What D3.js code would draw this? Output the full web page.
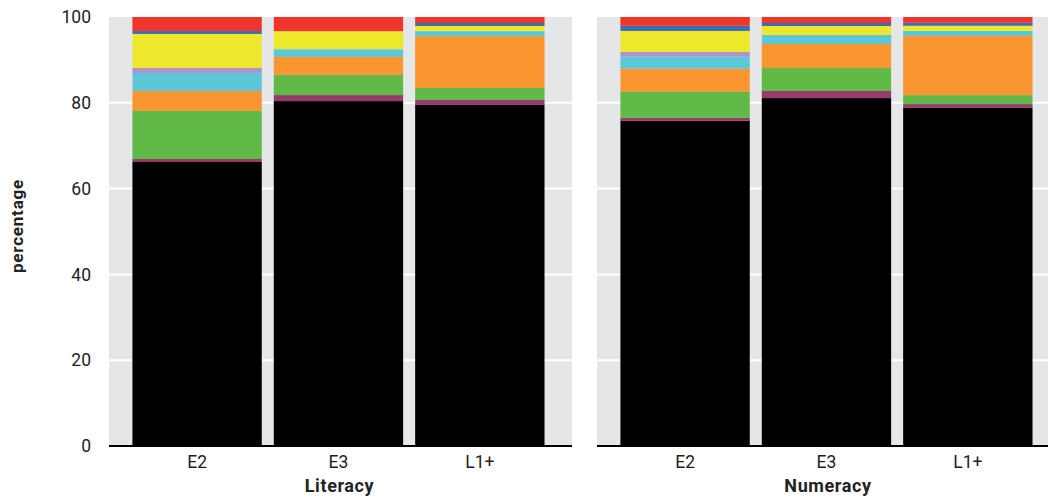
<!DOCTYPE html>
<html><head><meta charset="utf-8">
<script src="https://cdn.jsdelivr.net/npm/d3@7"></script>
<style>
html,body{margin:0;padding:0;background:#fff;}
svg{display:block;font-family:Roboto,"DejaVu Sans",sans-serif;}
</style></head>
<body>
<svg id="chart" width="1048" height="498"></svg>
<script>
const panels = ["Literacy", "Numeracy"];
const categories = ["E2", "E3", "L1+"];
const seriesNames = ["black", "maroon", "green", "orange", "cyan", "lavender", "yellow", "blue", "red"];
const seriesColors = ["#000000", "#973a6d", "#61ba47", "#f9962f", "#5cc7d9", "#b094c5", "#ede82b", "#3a6db3", "#f0352c"];
// values per series, order: Literacy E2, E3, L1+, Numeracy E2, E3, L1+
const black    = [66.2, 80.4, 79.5, 75.8, 81.1, 78.8];
const maroon   = [0.7, 1.4, 1.15, 0.7, 1.65, 0.9];
const green    = [11.2, 4.7, 2.8, 6.05, 5.35, 2.1];
const orange   = [4.65, 4.2, 12.1, 5.4, 5.6, 13.8];
const cyan     = [4.2, 1.8, 1.15, 2.8, 2.1, 1.15];
const lavender = [1.2, 0, 0, 1.1, 0, 0];
const yellow   = [7.9, 4.2, 1.2, 4.9, 2.1, 1.2];
const blue     = [0.7, 0, 0.7, 1.2, 0.7, 0.7];
const red      = [3.3, 3.3, 1.4, 2.1, 1.4, 1.4];
const yTicks = [0, 20, 40, 60, 80, 100];

const seriesValues = [black, maroon, green, orange, cyan, lavender, yellow, blue, red];

const svg = d3.select("#chart");
const y = d3.scaleLinear().domain([0, 100]).range([446, 17]);
const panelRanges = [[109, 572], [597, 1060]];

// y tick labels
svg.append("g").attr("transform", "translate(91,0)")
  .call(d3.axisLeft(y).tickValues(yTicks).tickSize(0).tickPadding(0))
  .call(g => g.select(".domain").remove())
  .call(g => g.selectAll("text").attr("font-size", 17.5).attr("fill", "#222")
        .attr("font-family", "Roboto, sans-serif"));

svg.append("text").attr("transform", "translate(23,226) rotate(-90)")
  .attr("text-anchor", "middle").attr("font-size", 17).attr("font-weight", "bold")
  .attr("letter-spacing", 0.8)
  .attr("fill", "#222").text("percentage");

panels.forEach((p, pi) => {
  const [r0, r1] = panelRanges[pi];
  const x = d3.scaleBand().domain(categories).range([r0, r1])
    .paddingInner(0.085).paddingOuter(0.18).align(0.46);
  const g = svg.append("g");
  g.append("rect").attr("x", r0).attr("y", y(100)).attr("width", r1 - r0)
    .attr("height", y(0) - y(100)).attr("fill", "#e5e6e8");
  g.selectAll("line.grid").data(yTicks.filter(t => t > 0 && t < 100)).join("line")
    .attr("x1", r0).attr("x2", r1).attr("y1", d => y(d)).attr("y2", d => y(d))
    .attr("stroke", "#fff").attr("stroke-width", 2);

  const rows = categories.map((c, ci) => {
    const row = { cat: c };
    seriesNames.forEach((s, si) => row[s] = seriesValues[si][pi * 3 + ci]);
    return row;
  });
  const stacked = d3.stack().keys(seriesNames)(rows);
  stacked.forEach((layer, li) => {
    g.selectAll(null).data(layer).join("rect")
      .attr("x", d => x(d.data.cat)).attr("width", x.bandwidth())
      .attr("y", d => y(Math.min(d[1], 100))).attr("height", d => y(d[0]) - y(Math.min(d[1], 100)))
      .attr("fill", seriesColors[li]);
  });

  const ax = svg.append("g").attr("transform", `translate(0,${y(0)})`)
    .call(d3.axisBottom(x).tickSize(0).tickPadding(10));
  ax.select(".domain").attr("stroke", "#000").attr("stroke-width", 2)
    .attr("d", `M${r0},0H${r1}`);
  ax.selectAll("text").attr("font-size", 17.5).attr("fill", "#222")
    .attr("font-family", "Roboto, sans-serif");

  svg.append("text").attr("x", pi === 0 ? (r0 + r1) / 2 - 1 : 828).attr("y", 492)
    .attr("text-anchor", "middle").attr("font-size", 18).attr("font-weight", "bold")
    .attr("letter-spacing", 0.6)
    .attr("fill", "#222").text(p);
});
</script>
</body></html>
